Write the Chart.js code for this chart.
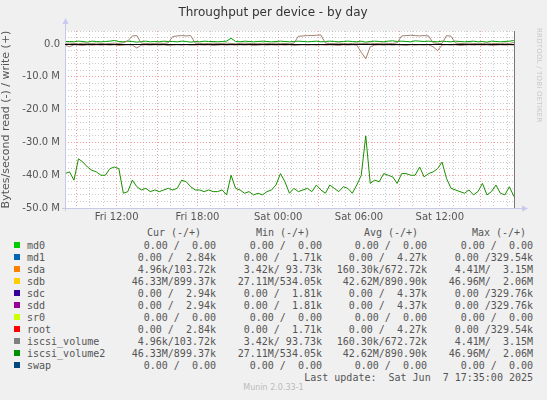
<!DOCTYPE html>
<html>
<head>
<meta charset="utf-8">
<script src="https://cdn.jsdelivr.net/npm/chart.js@4"></script>
<style>
  body { margin: 0; background: #f0f0f0; width: 547px; height: 400px; overflow: hidden; position: relative; font-family: "DejaVu Sans", sans-serif; }
  #wrap { position: absolute; left: 0; top: 0; width: 547px; height: 225px; }
  .mono { position: absolute; font-family: "DejaVu Sans Mono", monospace; font-size: 10px; color: #555; white-space: pre; line-height: 12px; }
  .sw { position: absolute; width: 6px; height: 6px; }
  #rrd { position: absolute; left: 533px; top: 28px; font-size: 7px; color: #c8c8c8; transform-origin: left top; transform: translate(10px, 0) rotate(90deg); white-space: nowrap; letter-spacing: 0.2px; }
  #munin { position: absolute; top: 383px; left: 0; width: 547px; text-align: center; font-size: 8px; color: #bbb; }
</style>
</head>
<body>
<div id="wrap"><canvas id="chart"></canvas></div>
<div id="rrd">RRDTOOL / TOBI OETIKER</div>
<div id="munin">Munin 2.0.33-1</div>
<script>
// time axis: minutes since Fri 08:10, one point every 20 minutes
const startHour = 8 + 10 / 60;
const stepMin = 20;

// iscsi_volume2 / sdb read (M bytes/s, plotted negative)
const readVol2 = [
  -39.5, -39, -41.5, -35, -36, -37.5, -38.5, -39, -40, -40,
  -38, -37.5, -38, -45.5, -45, -41.5, -43.5, -44.5, -44, -45,
  -44.5, -45, -44.5, -44, -44.5, -44, -41.5, -42, -43.5, -44.5,
  -44.5, -45, -44.5, -45, -45, -44.5, -46, -40, -44, -44.5,
  -45.5, -45, -46, -45.5, -46, -45, -44.5, -43, -39.5, -42,
  -45.5, -44, -45, -44.5, -44, -45, -43, -44.5, -45.5, -43,
  -44, -45, -43.5, -44, -45.5, -43, -40, -28, -42.5, -41.5,
  -42, -39.5, -40, -40.5, -42.5, -39.5, -39.5, -40, -40, -37.5,
  -40.5, -39.5, -39, -38, -36, -41, -44, -44.5, -45, -45.5,
  -44.5, -46, -45, -42.5, -46, -45, -43, -45.5, -46, -43.5, -46.5
];
// iscsi_volume2 / sdb write
const writeVol2 = [
  0.8, 0.8, 0.7, 0.9, 0.8, 0.6, 0.9, 0.8, 0.7, 0.8,
  0.9, 1.1, 0.8, 0.7, 0.9, 0.8, 0.6, 0.8, 0.9, 0.7,
  0.8, 0.7, 0.9, 0.8, 0.8, 0.7, 0.9, 0.8, 0.6, 0.8,
  0.7, 0.9, 0.8, 0.8, 0.7, 0.8, 0.9, 1.8, 0.8, 0.7,
  0.9, 0.8, 0.7, 0.8, 0.9, 0.8, 0.7, 0.8, 0.9, 0.8,
  0.7, 0.8, 0.9, 0.8, 0.7, 0.8, 0.9, 0.7, 0.8, 0.9,
  0.8, 0.7, 0.8, 0.9, 0.8, 0.7, 0.9, 0.6, 0.8, 0.9,
  0.8, 0.7, 0.9, 1.0, 0.8, 0.9, 0.8, 0.7, 1.0, 0.9,
  0.8, 0.9, 0.8, 0.7, 0.9, 0.8, 0.7, 0.9, 0.8, 0.7,
  0.8, 0.9, 0.7, 0.8, 0.6, 0.9, 0.8, 0.7, 0.8, 0.9, 1.1
];
// iscsi_volume / sda write
const writeVol1 = [
  0.2, 0.3, 0.2, 0.1, 0.3, 0.2, 0.2, 0.3, 0.2, 0.1,
  0.2, 0.3, 0.2, 0.4, 1.0, 2.5, 2.6, 0.3, 0.2, 0.1,
  0.2, 0.3, 0.2, 0.4, 2.3, 2.5, 2.6, 2.5, 2.6, 0.3,
  0.2, 0.1, 0.2, 0.3, 0.2, 0.2, 0.3, 0.2, 0.1, 0.2,
  0.3, 0.2, 0.2, 0.1, 0.3, 0.2, 0.2, 0.3, 0.2, 0.2,
  0.1, 0.3, 2.4, 2.5, 2.6, 2.6, 2.7, 2.8, 0.3, 0.2,
  0.2, 0.3, 0.2, 0.1, 0.2, 0.3, 0.2, 0.2, 0.3, 0.2,
  0.2, 0.3, 0.2, 0.2, 0.4, 2.5, 2.6, 2.7, 2.6, 2.5,
  2.6, 2.5, 0.4, 0.2, 0.2, 2.6, 2.4, 0.3, 0.2, 0.2,
  0.3, 0.2, 0.1, 0.2, 0.3, 0.2, 0.2, 0.1, 0.3, 0.2, 0.5
];
// iscsi_volume / sda read
const readVol1 = [
  -0.3, -0.8, -0.2, -0.3, -0.4, -0.2, -0.3, -0.2, -0.3, -0.2,
  -0.3, -0.2, -0.4, -0.3, -0.2, -0.3, -1.2, -0.3, -0.2, -0.3,
  -0.2, -0.3, -0.2, -0.4, -0.3, -0.2, -0.3, -0.2, -0.3, -0.3,
  -0.2, -0.3, -0.2, -0.4, -0.3, -0.2, -0.3, -0.2, -0.3, -0.2,
  -0.3, -0.2, -0.4, -0.3, -0.2, -0.3, -0.2, -0.3, -0.2, -0.3,
  -0.2, -0.4, -0.3, -0.2, -0.3, -0.2, -0.3, -0.2, -0.3, -0.2,
  -0.3, -0.4, -0.2, -0.3, -0.2, -0.3, -2.5, -4.5, -0.8, -0.3,
  -0.2, -0.3, -0.2, -0.3, -0.2, -0.3, -0.4, -0.2, -0.3, -0.2,
  -0.3, -0.2, -0.8, -2.0, -0.3, -0.2, -0.3, -0.2, -0.4, -0.3,
  -0.2, -0.3, -0.2, -0.3, -0.2, -0.4, -0.3, -0.2, -0.3, -0.2, -0.3
];

const yTicks = [-50, -40, -30, -20, -10, 0];
const xLabels = { 12: 'Fri 12:00', 18: 'Fri 18:00', 24: 'Sat 00:00', 30: 'Sat 06:00', 36: 'Sat 12:00' };

// legend table
const legendNames = ['md0', 'md1', 'sda', 'sdb', 'sdc', 'sdd', 'sr0', 'root', 'iscsi_volume', 'iscsi_volume2', 'swap'];
const legendColors = ['#00CC00', '#0066B3', '#FF8000', '#FFCC00', '#330099', '#990099', '#CCFF00', '#FF0000', '#808080', '#008F00', '#00487D'];
const curCol = ['0.00 /  0.00', '0.00 /  2.84k', '4.96k/103.72k', '46.33M/899.37k', '0.00 /  2.94k', '0.00 /  2.94k', '0.00 /  0.00', '0.00 /  2.84k', '4.96k/103.72k', '46.33M/899.37k', '0.00 /  0.00'];
const minCol = ['0.00 /  0.00', '0.00 /  1.71k', '3.42k/ 93.73k', '27.11M/534.05k', '0.00 /  1.81k', '0.00 /  1.81k', '0.00 /  0.00', '0.00 /  1.71k', '3.42k/ 93.73k', '27.11M/534.05k', '0.00 /  0.00'];
const avgCol = ['0.00 /  0.00', '0.00 /  4.27k', '160.30k/672.72k', '42.62M/890.90k', '0.00 /  4.37k', '0.00 /  4.37k', '0.00 /  0.00', '0.00 /  4.27k', '160.30k/672.72k', '42.62M/890.90k', '0.00 /  0.00'];
const maxCol = ['0.00 /  0.00', '0.00 /329.54k', '4.41M/  3.15M', '46.96M/  2.06M', '0.00 /329.76k', '0.00 /329.76k', '0.00 /  0.00', '0.00 /329.54k', '4.41M/  3.15M', '46.96M/  2.06M', '0.00 /  0.00'];
const colHeads = ['Cur (-/+)', 'Min (-/+)', 'Avg (-/+)', 'Max (-/+)'];
const lastUpdate = 'Last update:  Sat Jun  7 17:35:00 2025';

function addText(txt, x, y, align) {
  const d = document.createElement('div');
  d.className = 'mono';
  d.textContent = txt;
  d.style.top = (y - 6) + 'px';
  if (align === 'right') d.style.right = (547 - x) + 'px';
  else if (align === 'center') { d.style.left = (x - 100) + 'px'; d.style.width = '200px'; d.style.textAlign = 'center'; }
  else d.style.left = x + 'px';
  document.body.appendChild(d);
}
const colRight = [216, 322, 427, 533];
const colCenter = [174, 283, 391, 499];
colHeads.forEach((h, i) => addText(h, colCenter[i], 233, 'center'));
legendNames.forEach((n, i) => {
  const y = 246 + i * 12;
  const s = document.createElement('div');
  s.className = 'sw';
  s.style.left = '14px'; s.style.top = (y - 4) + 'px';
  s.style.background = legendColors[i];
  document.body.appendChild(s);
  addText(n, 27, y);
  [curCol, minCol, avgCol, maxCol].forEach((col, c) => addText(col[i], colRight[c], y, 'right'));
});
addText(lastUpdate, 533, 378, 'right');

const toPts = arr => arr.map((v, i) => ({ x: i * stepMin, y: v }));
const xMax = 2005;

const chromePlugin = {
  id: 'chrome',
  beforeDraw(chart) {
    const { ctx, chartArea: a } = chart;
    ctx.save();
    ctx.fillStyle = '#ffffff';
    ctx.fillRect(a.left, a.top, a.right - a.left, a.bottom - a.top);
    ctx.restore();
  },
  afterDatasetsDraw(chart) {
    const { ctx, chartArea: a, scales } = chart;
    ctx.save();
    // axes
    ctx.strokeStyle = '#c8c8e8';
    ctx.lineWidth = 1;
    ctx.beginPath();
    ctx.moveTo(a.left + 0.5, a.bottom + 3); ctx.lineTo(a.left + 0.5, a.top - 8);
    ctx.moveTo(a.left - 3, a.bottom + 0.5); ctx.lineTo(a.right + 8, a.bottom + 0.5);
    ctx.stroke();
    ctx.fillStyle = '#c8c8f0';
    ctx.beginPath();
    ctx.moveTo(a.left - 2.5, a.top - 7); ctx.lineTo(a.left + 3.5, a.top - 7); ctx.lineTo(a.left + 0.5, a.top - 13); ctx.fill();
    ctx.beginPath();
    ctx.moveTo(a.right + 7, a.bottom - 2.5); ctx.lineTo(a.right + 7, a.bottom + 3.5); ctx.lineTo(a.right + 13, a.bottom + 0.5); ctx.fill();
    // zero line and right edge
    const y0 = Math.round(scales.y.getPixelForValue(0)) + 0.5;
    ctx.strokeStyle = '#000000';
    ctx.beginPath(); ctx.moveTo(a.left, y0); ctx.lineTo(a.right, y0); ctx.stroke();
    ctx.strokeStyle = '#777777';
    ctx.beginPath(); ctx.moveTo(a.right - 0.5, a.top); ctx.lineTo(a.right - 0.5, a.bottom); ctx.stroke();
    ctx.restore();
  },
  afterDraw(chart) {
    const { ctx } = chart;
    ctx.save();
    ctx.fillStyle = '#333333';
    ctx.font = '12px "DejaVu Sans"';
    ctx.textAlign = 'center';
    ctx.textBaseline = 'middle';
    ctx.fillText('Throughput per device - by day', 273, 13);
    ctx.restore();
  }
};

const line = (data, color) => ({ data: toPts(data), borderColor: color, borderWidth: 1, pointRadius: 0, tension: 0, fill: false });

new Chart(document.getElementById('chart'), {
  type: 'line',
  data: {
    datasets: [
      line(writeVol1, '#a08070'),
      line(readVol1, '#a08070'),
      line(writeVol2, '#00a000'),
      line(readVol2, '#1a8f00')
    ]
  },
  options: {
    responsive: true,
    maintainAspectRatio: false,
    animation: false,
    layout: { padding: { top: 31, right: 32, left: 0, bottom: 0 } },
    plugins: { legend: { display: false }, tooltip: { enabled: false } },
    scales: {
      x: {
        type: 'linear', min: 0, max: xMax,
        afterBuildTicks: s => {
          const t = [];
          for (let m = 50; m <= xMax; m += 60) t.push({ value: m });
          s.ticks = t;
        },
        afterFit: s => { s.height = 17; },
        grid: {
          color: c => {
            const h = Math.round(startHour + c.tick.value / 60);
            return h % 3 === 0 ? 'rgba(240,120,120,0.7)' : 'rgba(170,170,170,0.6)';
          },
          drawTicks: false
        },
        border: { display: false, dash: [1, 2] },
        ticks: {
          autoSkip: false, maxRotation: 0, padding: 3,
          color: '#555', font: { family: 'DejaVu Sans', size: 10 },
          callback: v => xLabels[Math.round(startHour + v / 60)] || ''
        }
      },
      y: {
        min: -50, max: 4,
        afterBuildTicks: s => {
          const t = [];
          for (let v = -50; v <= 4; v += 2) t.push({ value: v });
          s.ticks = t;
        },
        afterFit: s => { s.width = 65; },
        grid: {
          color: c => c.tick.value % 10 === 0 ? 'rgba(240,120,120,0.7)' : 'rgba(170,170,170,0.6)',
          drawTicks: false
        },
        border: { display: false, dash: [1, 2] },
        title: { display: true, text: 'Bytes/second read (-) / write (+)', color: '#555', font: { family: 'DejaVu Sans', size: 11 }, padding: 0 },
        ticks: {
          padding: 5, autoSkip: false,
          color: '#555', font: { family: 'DejaVu Sans', size: 10 },
          callback: v => yTicks.includes(v) ? (v === 0 ? '0.0' : v.toFixed(1) + ' M') : ''
        }
      }
    }
  },
  plugins: [chromePlugin]
});
</script>
</body>
</html>
